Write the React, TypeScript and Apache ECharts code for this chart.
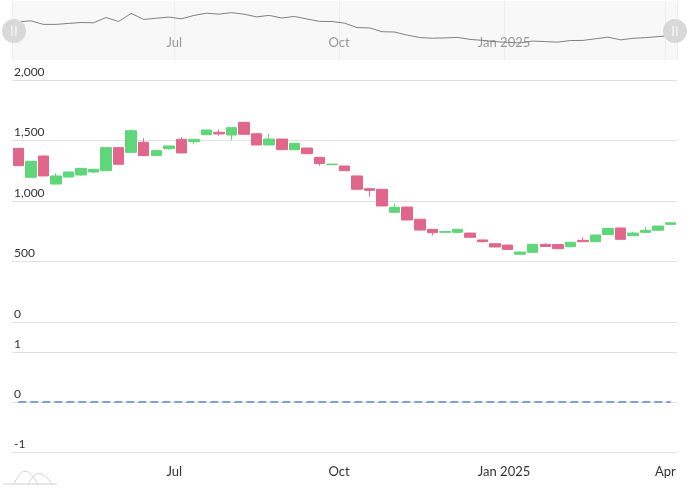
import React, { useEffect, useRef } from "react";
import * as echarts from "echarts";

const dates = [
  "2024-04-05", "2024-04-12", "2024-04-19", "2024-04-26",
  "2024-05-03", "2024-05-10", "2024-05-17", "2024-05-24", "2024-05-31",
  "2024-06-07", "2024-06-14", "2024-06-21", "2024-06-28",
  "2024-07-05", "2024-07-12", "2024-07-19", "2024-07-26",
  "2024-08-02", "2024-08-09", "2024-08-16", "2024-08-23", "2024-08-30",
  "2024-09-06", "2024-09-13", "2024-09-20", "2024-09-27",
  "2024-10-04", "2024-10-11", "2024-10-18", "2024-10-25",
  "2024-11-01", "2024-11-08", "2024-11-15", "2024-11-22", "2024-11-29",
  "2024-12-06", "2024-12-13", "2024-12-20", "2024-12-27",
  "2025-01-03", "2025-01-10", "2025-01-17", "2025-01-24", "2025-01-31",
  "2025-02-07", "2025-02-14", "2025-02-21", "2025-02-28",
  "2025-03-07", "2025-03-14", "2025-03-21", "2025-03-28",
  "2025-04-04",
];

// [open, close, low, high]
const ohlc = [
  [1435, 1292, 1290, 1437], [1196, 1328, 1194, 1330], [1372, 1207, 1205, 1375], [1140, 1207, 1138, 1229],
  [1198, 1240, 1196, 1242], [1215, 1270, 1208, 1272], [1240, 1262, 1229, 1264], [1251, 1441, 1249, 1443],
  [1441, 1303, 1300, 1443], [1402, 1581, 1400, 1592], [1485, 1375, 1373, 1518], [1375, 1416, 1373, 1418],
  [1432, 1455, 1424, 1457], [1510, 1397, 1395, 1529], [1490, 1510, 1468, 1512], [1548, 1587, 1546, 1589],
  [1568, 1554, 1540, 1589], [1545, 1606, 1502, 1608], [1650, 1551, 1549, 1652], [1556, 1463, 1461, 1558],
  [1463, 1512, 1461, 1554], [1512, 1424, 1422, 1514], [1424, 1477, 1422, 1479], [1438, 1391, 1389, 1440],
  [1361, 1309, 1292, 1363], [1300, 1305, 1298, 1307], [1289, 1251, 1249, 1291], [1207, 1097, 1095, 1209],
  [1102, 1088, 1036, 1104], [1097, 959, 957, 1099], [907, 948, 905, 975], [950, 843, 841, 952],
  [849, 760, 758, 851], [766, 738, 717, 768], [741, 748, 739, 750], [741, 766, 739, 768],
  [735, 700, 698, 737], [678, 664, 656, 680], [647, 620, 618, 649], [636, 600, 598, 638],
  [560, 578, 558, 580], [576, 642, 574, 644], [642, 624, 622, 650], [640, 606, 604, 642],
  [622, 659, 620, 661], [675, 664, 662, 702], [664, 719, 662, 721], [722, 774, 720, 776],
  [777, 683, 681, 779], [713, 735, 711, 746], [741, 758, 739, 785], [758, 793, 756, 795],
  [807, 820, 805, 822],
];

const signal = [
  0, 0, 0, 0, 0, 0, 0, 0, 0, 0, 0, 0, 0, 0, 0, 0, 0, 0, 0, 0, 0, 0, 0, 0, 0, 0, 0,
  0, 0, 0, 0, 0, 0, 0, 0, 0, 0, 0, 0, 0, 0, 0, 0, 0, 0, 0, 0, 0, 0, 0, 0, 0, 0,
];

const priceTicks = { min: 0, max: 2000, interval: 500 };
const signalTicks = { min: -1, max: 1, interval: 1 };
const monthNames = ["Jan", "Feb", "Mar", "Apr", "May", "Jun", "Jul", "Aug", "Sep", "Oct", "Nov", "Dec"];

const HALF_WEEK = 3.5 * 24 * 3600 * 1000;

const HANDLE_ICON =
  "path://M12,0A12,12,0,1,1,12,24A12,12,0,1,1,12,0ZM9.4,7V17H10.7V7ZM13.3,7V17H14.6V7Z";

export default function App() {
  const ref = useRef<HTMLDivElement>(null);
  useEffect(() => {
    if (!ref.current) return;
    const chart = echarts.init(ref.current, undefined, { renderer: "svg" });
    const candleData = dates.map((d, i) => [d, ...ohlc[i]]);
    const closeData = dates.map((d, i) => [d, ohlc[i][1]]);
    const signalData = dates.map((d, i) => [d, signal[i]]);
    const splitLine = { show: true, lineStyle: { color: "#e0e0e0" } };
    const yLabel = {
      inside: true,
      verticalAlign: "bottom" as const,
      margin: 2,
      padding: [0, 0, 3, 0],
      color: "#333",
      fontSize: 12,
      formatter: (v: number) => v.toLocaleString("en-US"),
    };
    const monthLabel = (val: number) => {
      const d = new Date(val);
      const m = d.getMonth();
      return m === 0 ? `Jan ${d.getFullYear()}` : monthNames[m];
    };
    const timeRange = {
      min: (v: any) => v.min - HALF_WEEK,
      max: (v: any) => v.max + HALF_WEEK,
      splitNumber: 3,
    };
    chart.setOption({
      animation: false,
      textStyle: { fontFamily: "Lato" },
      grid: [
        { left: 12, right: 13, top: 80, height: 242 },
        { left: 12, right: 13, top: 352, height: 100 },
        {
          left: 12,
          right: 13,
          top: 1,
          height: 59,
          show: true,
          backgroundColor: "#f8f8f8",
          borderWidth: 0,
        },
      ],
      xAxis: [
        {
          type: "time",
          gridIndex: 0,
          ...timeRange,
          axisLabel: { show: false },
          axisTick: { show: false },
          axisLine: { show: false },
          splitLine: { show: false },
        },
        {
          type: "time",
          gridIndex: 1,
          ...timeRange,
          axisLabel: { color: "#333", fontSize: 13, margin: 12, formatter: monthLabel },
          axisTick: { show: false },
          axisLine: { show: false },
          splitLine: { show: false },
        },
        {
          type: "time",
          gridIndex: 2,
          ...timeRange,
          axisLabel: {
            inside: true,
            color: "#999",
            fontSize: 13,
            margin: 12,
            formatter: (val: number) => (new Date(val).getMonth() === 3 ? "" : monthLabel(val)),
          },
          axisTick: { show: false },
          axisLine: { show: false },
          splitLine: { show: true, lineStyle: { color: "#ececec" } },
        },
      ],
      yAxis: [
        {
          type: "value",
          gridIndex: 0,
          ...priceTicks,
          axisLabel: yLabel,
          axisLine: { show: false },
          axisTick: { show: false },
          splitLine,
        },
        {
          type: "value",
          gridIndex: 1,
          ...signalTicks,
          axisLabel: yLabel,
          axisLine: { show: false },
          axisTick: { show: false },
          splitLine,
        },
        {
          type: "value",
          gridIndex: 2,
          min: 0,
          max: 2000,
          show: false,
          splitLine: { show: false },
        },
      ],
      dataZoom: [
        { type: "inside", xAxisIndex: [0, 1] },
        {
          type: "slider",
          xAxisIndex: [0, 1],
          top: 2,
          height: 58,
          left: 12,
          right: 15,
          showDataShadow: false,
          showDetail: false,
          brushSelect: false,
          moveHandleSize: 0,
          backgroundColor: "transparent",
          fillerColor: "transparent",
          borderColor: "transparent",
          handleIcon: HANDLE_ICON,
          handleSize: 24,
          handleStyle: { color: "#d9d9d9", borderWidth: 0, shadowBlur: 0, opacity: 1 },
          emphasis: { handleStyle: { color: "#d9d9d9", borderWidth: 0, shadowBlur: 0 } },
        },
      ],
      series: [
        {
          type: "candlestick",
          xAxisIndex: 0,
          yAxisIndex: 0,
          barWidth: 11,
          data: candleData,
          itemStyle: {
            color: "#5fd67a",
            color0: "#e0678b",
            borderColor: "#5fd67a",
            borderColor0: "#e0678b",
          },
        },
        {
          type: "line",
          xAxisIndex: 1,
          yAxisIndex: 1,
          data: signalData,
          symbol: "none",
          lineStyle: { color: "#7fa0d9", type: "dashed", width: 2 },
        },
        {
          type: "line",
          xAxisIndex: 2,
          yAxisIndex: 2,
          data: closeData,
          symbol: "none",
          silent: true,
          lineStyle: { color: "#808080", width: 1 },
        },
      ],
      graphic: [
        {
          type: "line",
          shape: { x1: 3, y1: 484, x2: 57, y2: 484 },
          style: { stroke: "#d0d0d0", lineWidth: 1 },
        },
        {
          type: "bezierCurve",
          shape: { x1: 14, y1: 484, cpx1: 22, cpy1: 467, cpx2: 28, cpy2: 467, x2: 38, y2: 484 },
          style: { stroke: "#d0d0d0", fill: "none", lineWidth: 1 },
        },
        {
          type: "bezierCurve",
          shape: { x1: 28, y1: 484, cpx1: 36, cpy1: 470, cpx2: 42, cpy2: 470, x2: 52, y2: 484 },
          style: { stroke: "#d0d0d0", fill: "none", lineWidth: 1 },
        },
      ],
    });
    return () => chart.dispose();
  }, []);
  return (
    <div
      ref={ref}
      style={{ position: "fixed", left: 0, top: 0, width: 690, height: 490 }}
    />
  );
}
